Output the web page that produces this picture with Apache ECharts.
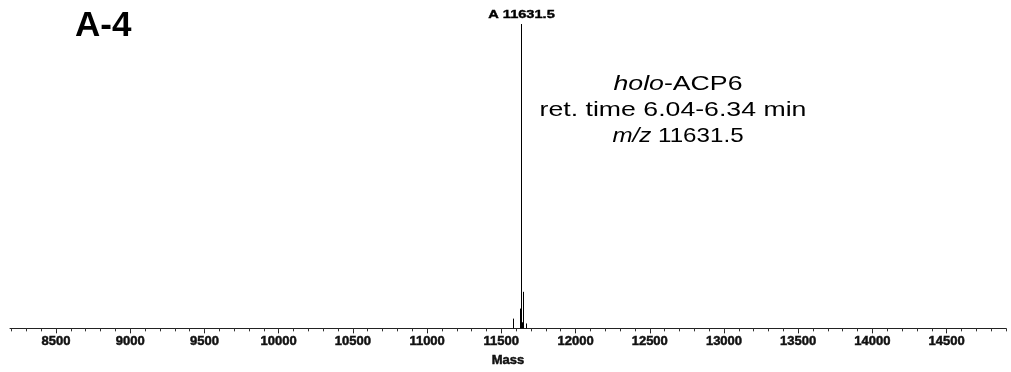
<!DOCTYPE html>
<html>
<head>
<meta charset="utf-8">
<script src="https://cdn.jsdelivr.net/npm/echarts@6/dist/echarts.min.js"></script>
<style>
  html, body { margin: 0; padding: 0; background: #fff; }
  #chart { width: 1011px; height: 372px; }
</style>
</head>
<body>
<div id="chart"></div>
<script>
// Deconvoluted mass spectrum of holo-ACP6 (sticks, relative intensity %)
const masses      = [11575.5, 11622.7, 11631.5, 11639.6, 11648.4, 11667.9];
const intensities = [3.2, 6.5, 100, 2.0, 12.0, 1.6];
const peakLabels  = ['', '', 'A 11631.5', '', '', ''];

// Mass axis
const massMin = 8190;
const massMax = 14900;
const majorTicks = [8500, 9000, 9500, 10000, 10500, 11000, 11500, 12000, 12500, 13000, 13500, 14000, 14500];
const minorStep = 100;

const panelTitle = 'A-4';
const infoLines = ['{i|holo}-ACP6', 'ret. time 6.04-6.34 min', '{i|m/z} 11631.5'];

const minorTicks = [];
for (let v = Math.ceil(massMin / minorStep) * minorStep; v <= massMax; v += minorStep) minorTicks.push(v);

const peaks = masses.map((m, i) => [m, intensities[i]]);

const FONT = '"Liberation Sans", Arial, Helvetica, sans-serif';
const STRETCH = 1.27;

const chart = echarts.init(document.getElementById('chart'), null, { renderer: 'canvas' });

const italicRich = { i: { fontStyle: 'italic', fontSize: 21, fontFamily: FONT, fill: '#000' } };

function infoText(line, x, y, sx) {
  return {
    type: 'text', x: x, y: y, scaleX: sx,
    style: {
      text: line, align: 'center', verticalAlign: 'middle',
      font: '21px ' + FONT, fill: '#000', rich: italicRich
    }
  };
}

chart.setOption({
  animation: false,
  backgroundColor: '#ffffff',
  grid: { left: 10, right: 5, top: 24, bottom: 39, containLabel: false },
  xAxis: [
    {
      type: 'value', min: massMin, max: massMax,
      splitLine: { show: false },
      axisLine: { show: true, onZero: false, lineStyle: { color: '#222', width: 1 } },
      axisTick: { show: true, customValues: majorTicks, length: 5, lineStyle: { color: '#222', width: 1 } },
      axisLabel: {
        show: true, customValues: majorTicks, margin: 7,
        fontFamily: FONT, fontWeight: 'bold', fontSize: 13, color: '#111',
        textBorderColor: '#111', textBorderWidth: 0.5,
        formatter: v => String(v)
      },
      name: 'Mass', nameLocation: 'middle', nameGap: 22,
      nameTextStyle: { fontFamily: FONT, fontWeight: 'bold', fontSize: 13, color: '#111', textBorderColor: '#111', textBorderWidth: 0.5 }
    },
    {
      type: 'value', min: massMin, max: massMax, position: 'bottom',
      splitLine: { show: false },
      axisLine: { show: false },
      axisTick: { show: true, customValues: minorTicks, length: 3, lineStyle: { color: '#333', width: 1 } },
      axisLabel: { show: false }
    }
  ],
  yAxis: { type: 'value', min: 0, max: 100, show: false, splitLine: { show: false } },
  series: [
    {
      type: 'custom',
      xAxisIndex: 0,
      data: peaks,
      clip: false,
      renderItem: function (params, api) {
        const top = api.coord([api.value(0), api.value(1)]);
        const base = api.coord([api.value(0), 0]);
        const x = Math.round(top[0]) + 0.5;
        const children = [{
          type: 'line',
          shape: { x1: x, y1: base[1], x2: x, y2: top[1] },
          style: { stroke: '#000', lineWidth: 1 }
        }];
        const label = peakLabels[params.dataIndex];
        if (label) {
          children.push({
            type: 'text',
            x: x, y: top[1] - 9,
            scaleX: STRETCH,
            style: {
              text: label,
              align: 'center', verticalAlign: 'middle',
              font: 'bold 11.5px ' + FONT, fill: '#000',
              stroke: '#000', lineWidth: 0.4
            }
          });
        }
        return { type: 'group', children: children };
      }
    }
  ],
  graphic: [
    {
      type: 'text', left: 75, top: 9,
      style: { text: panelTitle, font: 'bold 35px ' + FONT, fill: '#000' }
    },
    infoText(infoLines[0], 678, 84, STRETCH),
    infoText(infoLines[1], 673, 110, STRETCH),
    infoText(infoLines[2], 678, 136, 1.15)
  ]
});
</script>
</body>
</html>
